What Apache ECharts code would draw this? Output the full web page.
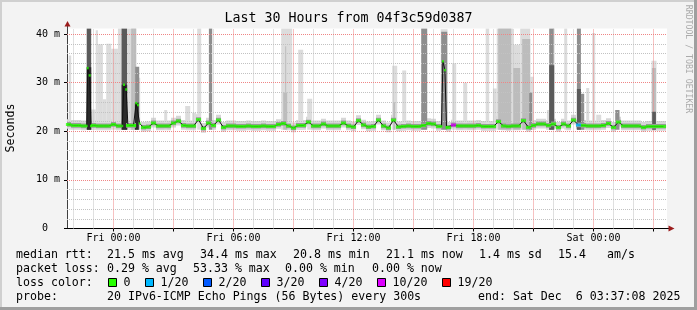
<!DOCTYPE html>
<html><head><meta charset="utf-8">
<script src="https://cdn.jsdelivr.net/npm/echarts@6/dist/echarts.min.js"></script>
<style>html,body{margin:0;padding:0;background:#f3f3f3;overflow:hidden}#c{width:697px;height:310px}</style>
</head><body><div id="c"></div>
<script>
// ---------- DATA (time in hours relative to Fri 00:00, values in ms) ----------
const medianStart = -2.25, medianStep = 0.25;
const medianMs = [
 21.4,21.2,21.2,21.1,null,21.2,21.1,21.1,21.1,21.4,
 21.1,null,21.2,21.2,null,20.8,20.9,21.7,21.1,21.1,
 21.1,21.7,22.1,21.2,21.1,21.1,22.4,20.6,21.7,21.2,
 22.3,20.8,21.1,21.1,21.0,21.0,21.1,21.0,21.0,21.1,
 21.0,21.0,21.4,21.6,21.1,20.7,21.2,21.2,21.9,21.1,
 21.1,21.5,21.1,21.1,21.1,21.7,21.1,20.9,22.2,21.3,
 20.9,21.0,22.3,21.1,20.7,22.3,20.9,21.0,21.1,21.0,
 21.0,21.2,21.6,21.5,21.0,null,20.8,21.3,21.1,21.1,
 21.1,21.1,21.2,21.0,21.0,21.0,22.0,21.1,21.0,21.1,
 21.1,22.2,20.8,21.2,21.5,21.5,21.2,21.5,20.8,21.5,
 21.1,22.3,21.3,21.2,21.1,21.1,21.1,21.2,21.6,20.8,
 21.9,21.1,21.1,21.1,21.1,20.8,21.0,21.0,21.0,21.0
];
const medianSpikes = [
 [-1.34,21.1],[-1.29,33.0],[-1.19,31.5],[-1.125,21.1],
 [0.435,21.1],[0.525,29.6],[0.635,28.6],[0.72,21.2],
 [1.07,21.2],[1.135,25.8],[1.225,25.4],[1.31,21.6],
 [16.40,21.0],[16.47,34.4],[16.57,32.6],[16.65,20.8]
];
const lossPoints = [[17.0,10],[23.25,1]];           // [time, lost pings]
const lossLevels = [0,1,2,3,4,10,19];
const lossLabels = ['0','1/20','2/20','3/20','4/20','10/20','19/20'];
// smoke columns: [startHour, endHour, topMs]
const smokeLight = [
 [-2.24,-2.115,35.6],[-1.115,-0.89,24.5],[-0.89,-0.78,40.8],[-0.78,-0.53,37.9],
 [-0.53,-0.365,26.6],[-0.365,-0.115,38.0],[-0.115,0.22,37.0],[0.22,0.385,41.2],
 [0.72,1.135,41.2],[1.135,1.335,31.0],[2.535,2.685,24.4],[3.585,3.835,25.2],
 [3.935,4.135,23.8],[4.185,4.385,41.2],[8.385,8.935,41.2],[9.235,9.485,36.8],
 [9.685,9.935,26.7],[13.935,14.185,33.5],[14.435,14.635,32.5],[16.36,16.70,41.0],
 [16.935,17.135,34.0],[17.485,17.685,30.0],[18.61,18.785,41.2],[18.97,19.16,28.8],
 [19.16,19.985,41.2],[19.985,20.335,37.8],[20.335,20.835,41.2],[20.835,21.01,31.2],
 [21.67,21.785,24.4],[22.535,22.685,41.2],[23.635,23.785,28.9],[23.935,24.085,40.2],
 [24.135,24.385,23.4],[26.9,27.15,34.5]
];
const smokeMid = [
 [0.385,0.435,41.2],[0.885,1.135,41.2],[8.485,8.685,28.0],[8.585,8.635,37.5],
 [13.985,14.085,26.0],[19.235,19.885,41.2],[19.985,20.335,33.0],[20.435,20.835,39.0],
 [26.92,27.12,33.0]
];
const smokeGrey = [
 [1.085,1.285,33.3],[4.77,4.935,41.2],[15.385,15.685,41.2],[16.385,16.685,40.5],
 [20.785,20.935,28.0],[21.785,22.035,41.2],[23.17,23.37,41.2],
 [23.37,23.535,27.7],[25.085,25.3,24.4]
];
const smokeDark = [
 [-1.34,-1.115,41.2],[0.41,0.685,41.2],[21.785,22.035,33.6],[23.17,23.37,28.7],[26.935,27.12,24.0]
];
const smokeBlack = [
 [-1.34,-1.115,33.2],[0.41,0.685,29.6],[1.07,1.26,25.9]
];
const yTicks = [0,10,20,30,40];
const yGridMinor = [2,4,6,8,12,14,16,18,22,24,26,28,32,34,36,38];
const yGridMajor = [10,20,30,40];
const xLabelHours = [0,6,12,18,24];
const xTickHours = [0,3,6,9,12,15,18,21,24,27];
const xGridMinor = [-2,-1,1,2,4,5,7,8,10,11,13,14,16,17,19,20,22,23,25,26];
const xGridMajor = [0,3,6,9,12,15,18,21,24,27];
const rttStats = ['21.5 ms avg','34.4 ms max','20.8 ms min','21.1 ms now','1.4 ms sd','15.4','am/s'];
const lossStats = ['0.29 % avg','53.33 % max','0.00 % min','0.00 % now'];
const titleText = 'Last 30 Hours from 04f3c59d0387';
const probeText = '20 IPv6-ICMP Echo Pings (56 Bytes) every 300s';
const endText = 'end: Sat Dec  6 03:37:08 2025';

// ---------- STYLE / LAYOUT ----------
const xMin = -2.325, xMax = 27.675, yMax = 41.15, smokeBase = 20.3;
const lossColors = ['#26ff00','#00b8ff','#0059ff','#5e00ff','#7e00ff','#dd00ff','#ff0000'];
const MONO = '"DejaVu Sans Mono", monospace';
function lossColor(n){ let c = lossColors[0]; lossLevels.forEach((l,i)=>{ if(n>=l) c = lossColors[i]; }); return c; }

const basePts = [];
medianMs.forEach((v,k)=>{ if(v!==null) basePts.push([medianStart+k*medianStep, v]); });
const linePts = basePts.concat(medianSpikes).sort((a,b)=>a[0]-b[0]);
const lossMap = {}; lossPoints.forEach(p=>{ lossMap[p[0].toFixed(2)] = p[1]; });
const greenData = basePts.map(p=>({value:p, itemStyle:{color: lossColor(lossMap[p[0].toFixed(2)]||0)}}));

function rectSeries(data, color, z){
  return { type:'custom', z:z, silent:true, clip:true, data:data, encode:{x:[0,1], y:2},
    renderItem:function(params, api){
      const a = api.coord([api.value(0), api.value(2)]);
      const b = api.coord([api.value(1), smokeBase]);
      return {type:'rect', shape:{x:a[0], y:a[1], width:b[0]-a[0], height:b[1]-a[1]}, style:{fill:color}};
    }};
}
function bandSeries(lo, hi, color, z){
  return { type:'custom', z:z, silent:true, clip:true, data:basePts, encode:{x:0, y:1},
    renderItem:function(params, api){
      const t = api.value(0), v = api.value(1);
      const a = api.coord([t-medianStep/2, v+hi]);
      const b = api.coord([t+medianStep/2, v+lo]);
      return {type:'rect', shape:{x:a[0], y:a[1], width:b[0]-a[0], height:b[1]-a[1]}, style:{fill:color}};
    }};
}
// grid lines as dotted markLines on empty carrier series
function gridSeries(axisKey, vals, color){
  return { type:'line', z:6, silent:true, data:[], symbol:'none',
    markLine:{ silent:true, symbol:['none','none'], label:{show:false}, animation:false,
      emphasis:{disabled:true},
      lineStyle:{color:color, width:1, type:[1,1], opacity:1},
      data: vals.map(v=>({[axisKey]: v})) } };
}
const minorC = '#c2c2c2', majorC = '#ef8585';

const txt = (text, x, y, size, extra) => ({type:'text', x:x, y:y, silent:true,
  style:Object.assign({text:text, font: size+'px '+MONO, fill:'#000', verticalAlign:'middle', align:'left'}, extra||{})});

const graphics = [
  {type:'rect', shape:{x:0,y:0,width:697,height:2}, style:{fill:'#d0d0d0'}, silent:true},
  {type:'rect', shape:{x:0,y:0,width:2,height:310}, style:{fill:'#d0d0d0'}, silent:true},
  {type:'rect', shape:{x:0,y:307,width:697,height:3}, style:{fill:'#9f9f9f'}, silent:true},
  {type:'rect', shape:{x:694,y:0,width:3,height:310}, style:{fill:'#9f9f9f'}, silent:true},
  {type:'line', shape:{x1:67.5,y1:28.5,x2:67.5,y2:25}, style:{stroke:'#404040', lineWidth:1}, silent:true},
  {type:'polygon', shape:{points:[[67.5,21],[64.5,26.5],[70.5,26.5]]}, style:{fill:'#9b1c1c'}, silent:true},
  {type:'line', shape:{x1:667,y1:228.5,x2:669,y2:228.5}, style:{stroke:'#000', lineWidth:1}, silent:true},
  {type:'polygon', shape:{points:[[674.5,228.5],[668.5,225.5],[668.5,231.5]]}, style:{fill:'#9b1c1c'}, silent:true},
  Object.assign(txt('Seconds', 0, 0, 11.6, {align:'center'}), {x:10.5, y:128, rotation:Math.PI/2}),
  Object.assign(txt('RRDTOOL / TOBI OETIKER', 0, 0, 8.2, {align:'center', fill:'#aaaaaa'}), {x:688.5, y:59, rotation:-Math.PI/2}),
  txt('median rtt:', 16, 254.5, 11.6),
  txt('packet loss:', 16, 268.5, 11.6),
  txt('loss color:', 16, 282.5, 11.6),
  txt('probe:', 16, 296.5, 11.6),
  txt(probeText, 107, 296.5, 11.6),
  txt(endText, 478, 296.5, 11.6)
];
const rttX = [107, 200, 293, 386, 479, 558, 607];
rttStats.forEach((s,i)=>graphics.push(txt(s, rttX[i], 254.5, 11.6)));
const lossX = [107, 193, 285, 372];
lossStats.forEach((s,i)=>graphics.push(txt(s, lossX[i], 268.5, 11.6)));
const boxX = [108.5, 145.5, 203.5, 261.5, 319.5, 377.5, 442.5];
lossLabels.forEach((s,i)=>{
  graphics.push({type:'rect', silent:true, shape:{x:boxX[i], y:278.5, width:8, height:8}, style:{fill:lossColors[i], stroke:'#000', lineWidth:1}});
  graphics.push(txt(s, boxX[i]+15, 282.5, 11.6));
});

const chart = echarts.init(document.getElementById('c'), null, {renderer:'canvas'});
chart.setOption({
  animation:false,
  backgroundColor:'#f3f3f3',
  title:{text:titleText, left:'center', top:12, padding:0,
    textStyle:{fontFamily:MONO, fontSize:13.3, fontWeight:'normal', color:'#000'}},
  grid:{left:67, right:30, top:28.5, bottom:81.5, show:true, backgroundColor:'#ffffff', borderWidth:0, containLabel:false, outerBoundsMode:'none'},
  xAxis:{type:'value', min:xMin, max:xMax,
    axisLine:{show:true, onZero:false, lineStyle:{color:'#000', width:1}},
    axisTick:{show:true, customValues:xTickHours, length:3, lineStyle:{color:'#000'}},
    axisLabel:{customValues:xLabelHours, margin:5, fontFamily:MONO, fontSize:10, color:'#000',
      formatter:function(v){ const d = v<0?'Thu':(v<24?'Fri':'Sat'); const h = ((Math.round(v)%24)+24)%24; return d+' '+String(h).padStart(2,'0')+':00'; }},
    splitLine:{show:false}},
  yAxis:{type:'value', min:0, max:yMax,
    axisLine:{show:true, onZero:false, lineStyle:{color:'#404040', width:1}},
    axisTick:{show:true, customValues:yTicks, length:3, lineStyle:{color:'#000'}},
    axisLabel:{customValues:yTicks, margin:7, fontFamily:MONO, fontSize:10, color:'#000',
      formatter:function(v){ return v===0 ? '0\u00a0\u00a0' : v+' m'; }},
    splitLine:{show:false}},
  graphic:graphics,
  series:[
    bandSeries(-0.9, 1.1, '#d6d6d6', 1),
    rectSeries(smokeLight, '#dcdcdc', 2),
    rectSeries(smokeMid, '#bcbcbc', 3),
    rectSeries(smokeGrey, '#8e8e8e', 4),
    rectSeries(smokeDark, '#5a5a5a', 5),
    rectSeries(smokeBlack, '#2b2b2b', 5),
    bandSeries(-0.45, 0.5, '#9a9a9a', 5),
    gridSeries('xAxis', xGridMinor, minorC), gridSeries('yAxis', yGridMinor, minorC),
    gridSeries('xAxis', xGridMajor, majorC), gridSeries('yAxis', yGridMajor, majorC),
    {type:'line', z:7, silent:true, data:linePts, symbol:'none', lineStyle:{color:'#111', width:1}},
    {type:'scatter', z:8, silent:true, data:greenData, symbol:'rect', symbolSize:[5.2,3]},
    {type:'scatter', z:8, silent:true, data:medianSpikes, symbol:'rect', symbolSize:[2,2.5], itemStyle:{color:lossColors[0]}}
  ]
});
</script></body></html>
